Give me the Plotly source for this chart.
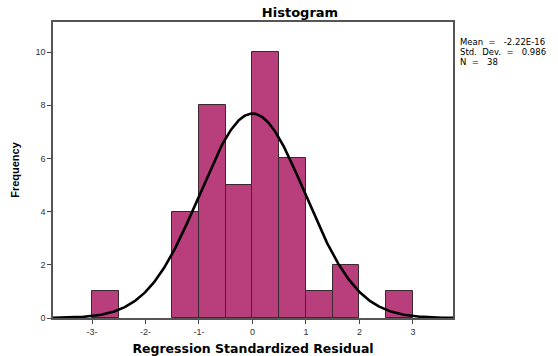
import numpy as np
import plotly.graph_objects as go

# Histogram of regression standardized residuals (bin width 0.5)
bin_left = [-3.0, -1.5, -1.0, -0.5, 0.0, 0.5, 1.0, 1.5, 2.5]
counts = [1, 4, 8, 5, 10, 6, 1, 2, 1]
bin_width = 0.5

mean_val = -2.22e-16
std_dev = 0.986
n_obs = 38

x_ticks = [-3, -2, -1, 0, 1, 2, 3]
x_tick_labels = ["-3-", "-2-", "-1-", "0", "1", "2", "3"]
y_ticks = [0, 2, 4, 6, 8, 10]

x_range = [-3.73, 3.75]
y_range = [0, 11.13]

centers = [b + bin_width / 2 for b in bin_left]

# Fitted normal curve scaled to the histogram counts
xs = np.linspace(x_range[0], x_range[1], 400)
ys = n_obs * bin_width / (std_dev * np.sqrt(2 * np.pi)) * np.exp(-0.5 * ((xs - mean_val) / std_dev) ** 2)

fig = go.Figure()
fig.add_trace(go.Bar(
    x=centers, y=counts, width=bin_width,
    marker=dict(color="#B83E7C", line=dict(color="#3a2a30", width=1)),
    showlegend=False, hoverinfo="skip",
))
fig.add_trace(go.Scatter(
    x=xs, y=ys, mode="lines",
    line=dict(color="black", width=2.6),
    showlegend=False, hoverinfo="skip",
))

axis_common = dict(
    showgrid=False, zeroline=False, showline=True, linecolor="#555555", linewidth=1.5,
    mirror=True, ticks="outside", ticklen=4, tickcolor="#444444", tickwidth=1,
    automargin=False,
    tickfont=dict(family="Liberation Sans, Arial", size=9, color="#333333"),
)

fig.update_layout(
    width=558, height=356,
    margin=dict(l=53, r=105, t=22, b=38),
    paper_bgcolor="white", plot_bgcolor="white",
    bargap=0,
    title=dict(text="<b>Histogram</b>", x=300 / 558, xanchor="center",
               y=1 - 12.5 / 356, yanchor="middle",
               font=dict(family="DejaVu Sans, Liberation Sans", size=13, color="black")),
    xaxis=dict(range=x_range, tickvals=x_ticks, ticktext=x_tick_labels,
               title=dict(text="<b>Regression Standardized Residual</b>", standoff=9,
                          font=dict(family="DejaVu Sans, Liberation Sans", size=12.5, color="black")),
               **axis_common),
    yaxis=dict(range=y_range, tickvals=y_ticks,
               title=dict(text="<b>Frequency</b>", standoff=14,
                          font=dict(family="Liberation Sans Narrow, Liberation Sans, Arial", size=11, color="black")),
               **axis_common),
)

# Summary statistics block beside the plot, one line each
sp = "&nbsp;"
stats_lines = [
    f"Mean{sp * 2}={sp * 3}-2.22E-16",
    f"Std.{sp * 2}Dev.{sp * 2}={sp * 3}{std_dev}",
    f"N{sp * 2}={sp * 3}{n_obs}",
]
for i, line in enumerate(stats_lines):
    fig.add_annotation(
        text=line, xref="paper", yref="paper",
        x=1.0, xshift=5, xanchor="left",
        y=1.0, yshift=-19.5 - 10 * i, yanchor="middle",
        showarrow=False, align="left",
        font=dict(family="DejaVu Sans, Liberation Sans", size=8.5, color="black"),
    )

fig.write_html("out.html")
